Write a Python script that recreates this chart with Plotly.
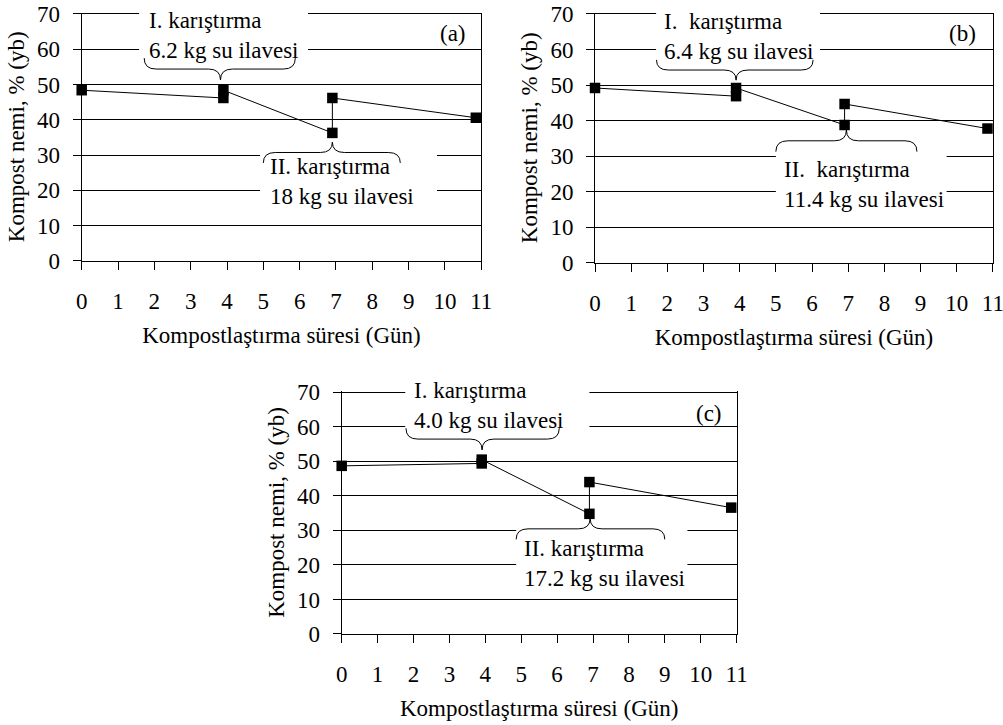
import plotly.graph_objects as go

# ---------------- data ----------------
days = [0, 3.9, 3.9, 6.9, 6.9, 10.85]
moisture_a = [48.4, 46.2, 48.4, 36.3, 46.2, 40.6]
moisture_b = [49.2, 46.9, 49.2, 38.8, 44.7, 37.8]
moisture_c = [48.7, 49.4, 50.5, 34.8, 44.0, 36.6]
x_ticks = list(range(0, 12))
y_ticks = list(range(0, 80, 10))
x_title = "Kompostlaştırma süresi (Gün)"
y_title = "Kompost nemi, % (yb)"
panel_labels = ["(a)", "(b)", "(c)"]
mix1_title = ["I. karıştırma", "I.\u00a0 karıştırma", "I. karıştırma"]
mix1_water = ["6.2 kg su ilavesi", "6.4 kg su ilavesi", "4.0 kg su ilavesi"]
mix2_title = ["II. karıştırma", "II.\u00a0 karıştırma", "II. karıştırma"]
mix2_water = ["18 kg su ilavesi", "11.4 kg su ilavesi", "17.2 kg su ilavesi"]
series = [moisture_a, moisture_b, moisture_c]

# ---------------- layout (pixels / data-unit positions) ----------------
W, H = 1003, 725
XMAX, YMAX = 11, 70.4
FONT = "Liberation Serif, Times New Roman, serif"
FS = 23
geo = [(81.7, 481.3, 261, 14), (595, 992.9, 263, 14), (341.7, 736.6, 634, 392.3)]
boxes = [
    [(1.58, 6.23, 53, 70.4), (4.91, 9.78, 13, 33)],
    [(1.69, 6.22, 53, 70.4), (5.0, 9.72, 13, 35)],
    [(1.77, 6.90, 53, 70.4), (4.86, 9.63, 12, 32)],
]
braces = [
    [(1.72, 5.88, 3.82, 57.5, 51.3), (5.0, 8.77, 6.9, 27.8, 33.7)],
    [(1.70, 6.03, 3.9, 57.1, 51.4), (5.0, 8.9, 6.95, 31.3, 37.4)],
    [(1.79, 6.06, 3.91, 59.6, 53.3), (4.86, 9.0, 6.92, 27.4, 33.5)],
]
text_pos = [
    [(1.83, 63.9), (5.16, 22.4)],
    [(1.88, 63.6), (5.19, 22.2)],
    [(1.98, 66.1), (5.05, 20.5)],
]
label_pos = [(10.23, 64.6), (10.17, 64.6), (10.24, 63.9)]

fig = go.Figure()
shapes = []
annotations = []


def brace_path(xl, xr, xt, ye, yt, r=0.33):
    ym = (ye + yt) / 2
    return (f"M{xl},{ye} Q{xl},{ym} {xl + r},{ym} L{xt - r},{ym} Q{xt},{ym} {xt},{yt} "
            f"Q{xt},{ym} {xt + r},{ym} L{xr - r},{ym} Q{xr},{ym} {xr},{ye}")


for i in range(3):
    sfx = "" if i == 0 else str(i + 1)
    left, right, y0p, y70p = geo[i]
    ppu = (y0p - y70p) / 70
    top_px = y0p - ppu * YMAX
    xdom = [left / W, right / W]
    ydom = [1 - y0p / H, 1 - top_px / H]

    fig.add_trace(go.Scatter(
        x=days, y=series[i], mode="lines+markers",
        line=dict(color="black", width=1),
        marker=dict(symbol="square", size=10.5, color="black"),
        xaxis="x" + sfx, yaxis="y" + sfx, showlegend=False, cliponaxis=False,
    ))

    fig.update_layout(**{
        "xaxis" + sfx: dict(
            domain=xdom, range=[0, XMAX], tickvals=x_ticks, anchor="y" + sfx,
            showgrid=False, showline=True, linecolor="black", linewidth=1,
            ticks="outside", ticklen=8, tickcolor="black", tickwidth=1,
            tickfont=dict(family=FONT, size=FS, color="black"),
            ticklabelstandoff=11, ticklabeloverflow="allow",
            zeroline=False, automargin=False,
            title=dict(text=x_title, font=dict(family=FONT, size=FS, color="black"), standoff=14),
        ),
        "yaxis" + sfx: dict(
            domain=ydom, range=[0, YMAX], tickvals=y_ticks, anchor="x" + sfx,
            showgrid=True, gridcolor="black", gridwidth=1,
            showline=True, linecolor="black", linewidth=1, mirror=True,
            ticks="outside", ticklen=8, tickcolor="black", tickwidth=1,
            tickfont=dict(family=FONT, size=FS, color="black"),
            ticklabelstandoff=8, zeroline=False, automargin=False,
            title=dict(text=y_title, font=dict(family=FONT, size=FS, color="black"), standoff=6),
        ),
    })

    xr_ = "x" + sfx
    yr_ = "y" + sfx
    for (bx0, bx1, by0, by1) in boxes[i]:
        shapes.append(dict(
            type="rect", xref=xr_, yref=yr_,
            x0=bx0, x1=bx1, y0=by0, y1=by1,
            fillcolor="white", line=dict(width=0), layer="between",
        ))
    for (xl, xr, xt, ye, yt) in braces[i]:
        shapes.append(dict(
            type="path", xref=xr_, yref=yr_, path=brace_path(xl, xr, xt, ye, yt),
            line=dict(color="black", width=1), layer="above",
        ))
    texts = [mix1_title[i] + "<br>" + mix1_water[i], mix2_title[i] + "<br>" + mix2_water[i]]
    for (tx, ty), t in zip(text_pos[i], texts):
        annotations.append(dict(
            x=tx, y=ty, xref=xr_, yref=yr_, text=t, showarrow=False,
            xanchor="left", yanchor="middle", align="left", borderpad=0,
            font=dict(family=FONT, size=FS, color="black"),
        ))
    lx, ly = label_pos[i]
    annotations.append(dict(
        x=lx, y=ly, xref=xr_, yref=yr_, text=panel_labels[i], showarrow=False,
        xanchor="center", yanchor="middle",
        font=dict(family=FONT, size=FS, color="black"),
    ))

fig.update_layout(
    width=W, height=H, margin=dict(l=0, r=0, t=0, b=0),
    paper_bgcolor="white", plot_bgcolor="white",
    shapes=shapes, annotations=annotations,
    font=dict(family=FONT, size=FS, color="black"),
)

fig.write_html("out.html")
